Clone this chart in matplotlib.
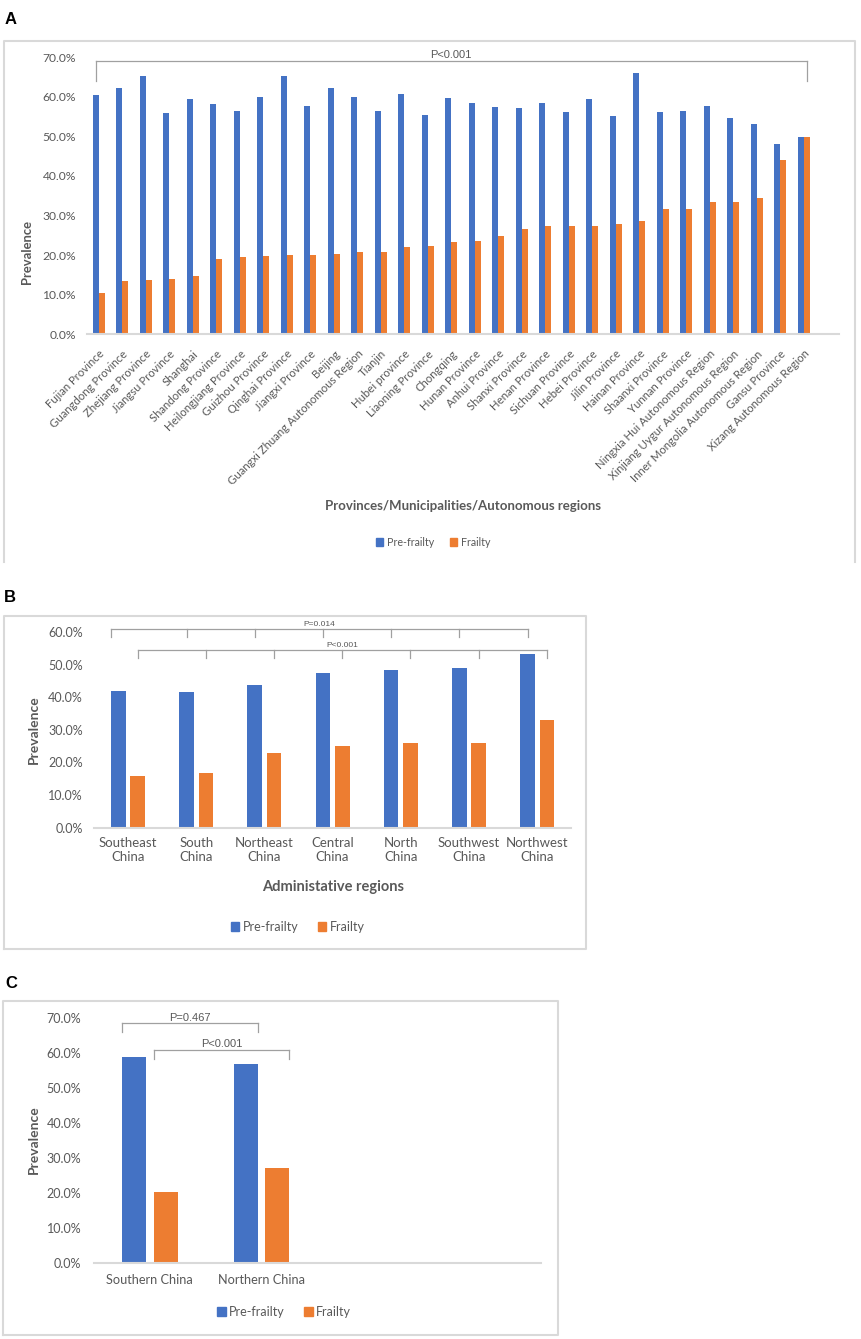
import numpy as np
import matplotlib
matplotlib.use("Agg")
import matplotlib.pyplot as plt
from matplotlib.patches import Patch
from matplotlib.lines import Line2D
from matplotlib.ticker import PercentFormatter

plt.rcParams['font.family'] = ['Lato', 'DejaVu Sans']

W, H = 862, 1339
BLUE = "#4472C4"
ORANGE = "#ED7D31"
GREY = "#595959"
EDGE = "#d9d9d9"
BRK = "#a0a0a0"

# panel A: provinces
provinces = ["Fujian Province", "Guangdong Province", "Zhejiang Province", "Jiangsu Province",
             "Shanghai", "Shandong Province", "Heilongjiang Province", "Guizhou Province",
             "Qinghai Province", "Jiangxi Province", "Beijing", "Guangxi Zhuang Autonomous Region",
             "Tianjin", "Hubei province", "Liaoning Province", "Chongqing", "Hunan Province",
             "Anhui Province", "Shanxi Province", "Henan Province", "Sichuan Province",
             "Hebei Province", "Jilin Province", "Hainan Province", "Shaanxi Province",
             "Yunnan Province", "Ningxia Hui Autonomous Region", "Xinjiang Uygur Autonomous Region",
             "Inner Mongolia Autonomous Region", "Gansu Province", "Xizang Autonomous Region"]
pre_a = [60.5, 62.2, 65.2, 55.8, 59.5, 58.1, 56.3, 60.0, 65.2, 57.6, 62.2, 59.9, 56.3, 60.8, 55.3,
         59.7, 58.3, 57.4, 57.1, 58.5, 56.1, 59.5, 55.1, 66.0, 56.1, 56.3, 57.6, 54.7, 53.2, 48.0, 49.9]
frail_a = [10.5, 13.4, 13.8, 14.0, 14.7, 19.1, 19.4, 19.8, 19.9, 20.1, 20.3, 20.9, 20.9, 22.0, 22.2,
           23.2, 23.6, 24.9, 26.7, 27.4, 27.4, 27.4, 27.8, 28.5, 31.6, 31.7, 33.3, 33.3, 34.4, 44.1, 49.9]

# panel B: administrative regions
regions = ["Southeast\nChina", "South\nChina", "Northeast\nChina", "Central\nChina",
           "North\nChina", "Southwest\nChina", "Northwest\nChina"]
pre_b = [42.0, 41.7, 43.8, 47.4, 48.2, 49.0, 53.3]
frail_b = [15.9, 16.7, 23.0, 24.9, 25.9, 26.1, 33.0]

# panel C: south vs north
halves = ["Southern China", "Northern China"]
pre_c = [58.9, 57.0]
frail_c = [20.3, 27.1]

fig = plt.figure(figsize=(W / 100, H / 100), dpi=100)


def add_ax(left, top, right, bottom):
    return fig.add_axes([left / W, 1 - bottom / H, (right - left) / W, (bottom - top) / H])


def fpos(x, y):
    return x / W, 1 - y / H


def frame(left, top, right, bottom, closed=True):
    xs = [left, left, right, right]
    ys = [bottom, top, top, bottom]
    if closed:
        xs.append(left)
        ys.append(bottom)
    fx = [x / W for x in xs]
    fy = [1 - y / H for y in ys]
    fig.add_artist(Line2D(fx, fy, color=EDGE, lw=1.5, transform=fig.transFigure))


def style(ax, ymax, fs, pad):
    ax.set_ylim(0, ymax)
    ax.yaxis.set_major_formatter(PercentFormatter(decimals=1))
    ax.set_yticks(np.arange(0, ymax + 1, 10))
    for s in ["top", "right", "left"]:
        ax.spines[s].set_visible(False)
    ax.spines["bottom"].set_color(EDGE)
    ax.spines["bottom"].set_linewidth(1.5)
    ax.tick_params(length=0, colors=GREY, labelsize=fs)
    ax.tick_params(axis="y", pad=pad)


def bracket(ax, xs, y, leg, text, ty, fs):
    ax.plot([xs[0], xs[-1]], [y, y], color=BRK, lw=0.9, clip_on=False)
    for x in xs:
        ax.plot([x, x], [y, leg], color=BRK, lw=0.9, clip_on=False)
    ax.text((xs[0] + xs[-1]) / 2, ty, text, ha="center", va="center", fontsize=fs,
            color=GREY, family=["Liberation Sans", "DejaVu Sans"], clip_on=False)


def legend(cx, cy, fs):
    hs = [Patch(color=BLUE), Patch(color=ORANGE)]
    fig.legend(hs, ["Pre-frailty", "Frailty"], loc="center", bbox_to_anchor=fpos(cx, cy),
               ncol=2, frameon=False, fontsize=fs, handlelength=0.7, handleheight=0.7,
               handletextpad=0.3, columnspacing=1.5, labelcolor=GREY)


# ---- A ----
frame(4, 41, 855, 562, closed=False)
fig.text(*fpos(11, 19), "A", fontsize=12, fontweight="bold", ha="center", va="center",
         family=["Liberation Sans", "DejaVu Sans"])
axa = add_ax(87, 57.1, 839, 334.3)
xa = np.arange(len(provinces))
wa, oa = 0.25, 0.135
axa.bar(xa - oa, pre_a, wa, color=BLUE)
axa.bar(xa + oa, frail_a, wa, color=ORANGE)
axa.set_xlim(-0.5, len(provinces) + 0.5)
style(axa, 70, 8.7, 8)
axa.set_xticks(xa)
axa.set_xticklabels(provinces, rotation=45, ha="right", rotation_mode="anchor", fontsize=8.2)
axa.tick_params(axis="x", pad=10)
bracket(axa, [xa[0] - oa, xa[-1] + oa], 69.0, 64.0, "P<0.001", 70.6, 8)
fig.text(*fpos(463, 506), "Provinces/Municipalities/Autonomous regions", fontsize=9.5,
         fontweight="bold", color=GREY, ha="center", va="center")
fig.text(*fpos(27, 252), "Prevalence", fontsize=9.4, fontweight="bold", color=GREY,
         rotation=90, ha="center", va="center")
legend(433, 542, 7.7)

# ---- B ----
frame(4, 616, 586, 949)
fig.text(*fpos(10, 597), "B", fontsize=12, fontweight="bold", ha="center", va="center",
         family=["Liberation Sans", "DejaVu Sans"])
axb = add_ax(93.9, 632, 571.3, 827.7)
xb = np.arange(len(regions))
wb, ob = 0.213, 0.142
axb.bar(xb - ob, pre_b, wb, color=BLUE)
axb.bar(xb + ob, frail_b, wb, color=ORANGE)
axb.set_xlim(-0.5, len(regions) - 0.5)
style(axb, 60, 9, 8)
axb.set_xticks(xb)
axb.set_xticklabels(regions, fontsize=9.5, linespacing=1.2)
axb.tick_params(axis="x", pad=7)
blue_b = list(xb - ob)
blue_b[0] = blue_b[0] - wb / 2
bracket(axb, blue_b, 60.95, 58.6, "P=0.014", 62.3, 6)
bracket(axb, list(xb + ob), 54.4, 52.1, "P<0.001", 56.0, 6)
fig.text(*fpos(333, 887), "Administative regions", fontsize=10.5, fontweight="bold",
         color=GREY, ha="center", va="center")
fig.text(*fpos(34, 730), "Prevalence", fontsize=10, fontweight="bold", color=GREY,
         rotation=90, ha="center", va="center")
legend(298, 927, 9)

# ---- C ----
frame(3.5, 1001, 558, 1335)
fig.text(*fpos(11, 983), "C", fontsize=12, fontweight="bold", ha="center", va="center",
         family=["Liberation Sans", "DejaVu Sans"])
axc = add_ax(93.9, 1018.3, 541, 1263.3)
xc = np.arange(len(halves))
wc, oc = 0.215, 0.141
axc.bar(xc - oc, pre_c, wc, color=BLUE)
axc.bar(xc + oc, frail_c, wc, color=ORANGE)
axc.set_xlim(-0.5, 3.5)
style(axc, 70, 9, 9)
axc.set_xticks(xc)
axc.set_xticklabels(halves, fontsize=9.2)
axc.tick_params(axis="x", pad=8)
bracket(axc, [xc[0] - oc - wc / 2, xc[1] - oc + wc / 2], 68.6, 66.1, "P=0.467", 70.2, 8)
bracket(axc, [xc[0] + oc - wc / 2, xc[1] + oc + wc / 2], 60.9, 58.4, "P<0.001", 62.6, 8)
fig.text(*fpos(34, 1140), "Prevalence", fontsize=10, fontweight="bold", color=GREY,
         rotation=90, ha="center", va="center")
legend(284, 1312, 9)

fig.savefig("out.png", dpi=100)
